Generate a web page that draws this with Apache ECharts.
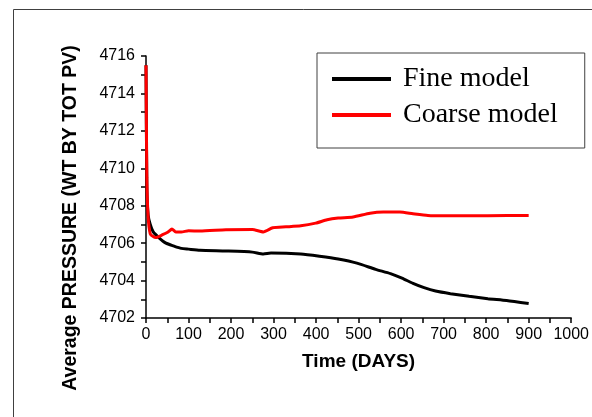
<!DOCTYPE html>
<html>
<head>
<meta charset="utf-8">
<script src="https://cdn.jsdelivr.net/npm/echarts@6/dist/echarts.min.js"></script>
<style>html,body{margin:0;padding:0;background:#fff;}#c{width:592px;height:417px;}</style>
</head>
<body>
<div id="c"></div>
<script>
var fineDays   = [0, 2, 5, 10, 17, 30, 47, 65, 83, 100, 127, 188, 250, 276, 294, 364, 408, 452, 496, 540, 575, 602, 628, 654, 681, 716, 760, 804, 848, 900];
var fineValues = [4715.5, 4709.0, 4707.5, 4707.0, 4706.6, 4706.3, 4706.0, 4705.85, 4705.72, 4705.68, 4705.62, 4705.58, 4705.52, 4705.42, 4705.47, 4705.42, 4705.3, 4705.15, 4704.93, 4704.6, 4704.37, 4704.13, 4703.85, 4703.62, 4703.44, 4703.3, 4703.16, 4703.03, 4702.93, 4702.77];
var coarseDays   = [0, 2, 5, 10, 17, 23, 39, 52, 61, 70, 83, 100, 127, 188, 250, 276, 298, 329, 364, 399, 426, 452, 487, 527, 558, 597, 628, 663, 698, 804, 900];
var coarseValues = [4715.5, 4709.5, 4707.4, 4706.5, 4706.35, 4706.3, 4706.45, 4706.6, 4706.75, 4706.6, 4706.6, 4706.66, 4706.65, 4706.72, 4706.73, 4706.6, 4706.82, 4706.87, 4706.93, 4707.07, 4707.25, 4707.34, 4707.4, 4707.6, 4707.66, 4707.66, 4707.57, 4707.48, 4707.46, 4707.47, 4707.48];
var seriesNames = ['Fine model', 'Coarse model'];
var xAxisTitle = 'Time (DAYS)';
var yAxisTitle = 'Average PRESSURE (WT BY TOT PV)';

function pairs(xs, ys){ return xs.map(function(x,i){ return [x, ys[i]]; }); }
var sans = '"Liberation Sans", Arial, sans-serif';

var chart = echarts.init(document.getElementById('c'), null, {renderer:'canvas'});
chart.setOption({
  animation: false,
  backgroundColor: '#fff',
  grid: {left: 146, right: 17, top: 56, bottom: 99},
  graphic: [
    {type:'rect', left: 11, top: 7, shape:{width: 620, height: 430}, style:{fill:'none', stroke:'#404040', lineWidth:1}, z: 0},
    {type:'text', x: 71, y: 218, rotation: Math.PI/2, style:{text: yAxisTitle, font:'bold 19.5px "Liberation Sans", Arial, sans-serif', fill:'#000', align:'center', verticalAlign:'middle'}}
  ],
  legend: {
    orient: 'vertical', left: 317, top: 53,
    data: seriesNames,
    icon: 'rect', itemWidth: 59, itemHeight: 4, itemGap: 8,
    padding: [12, 27, 19, 15],
    borderColor: '#404040', borderWidth: 1,
    textStyle: {fontFamily: '"Liberation Serif", "Times New Roman", serif', fontSize: 28, color: '#000', padding: [0,0,0,7]}
  },
  xAxis: {
    type: 'value', min: 0, max: 1000, interval: 100,
    name: xAxisTitle, nameLocation: 'middle', nameGap: 34,
    nameTextStyle: {fontFamily: sans, fontWeight:'bold', fontSize:19, color:'#000'},
    axisLine: {onZero:false, lineStyle:{color:'#000', width:1.5}},
    axisTick: {show:true, inside:false, length:5, lineStyle:{color:'#000', width:1.5}},
    minorTick: {show:true, splitNumber:2, length:5, lineStyle:{color:'#000', width:1.5}},
    axisLabel: {fontFamily: sans, fontSize:16, color:'#000', margin:9, formatter: function(v){ return String(v); }},
    splitLine: {show:false}
  },
  yAxis: {
    type: 'value', min: 4702, max: 4716, interval: 2,
    axisLine: {show:true, onZero:false, lineStyle:{color:'#000', width:1.5}},
    axisTick: {show:true, inside:false, length:5, lineStyle:{color:'#000', width:1.5}},
    minorTick: {show:true, splitNumber:2, length:5, lineStyle:{color:'#000', width:1.5}},
    axisLabel: {fontFamily: sans, fontSize:16, color:'#000', margin:11, formatter: function(v){ return String(v); }},
    splitLine: {show:false}
  },
  series: [
    {name: seriesNames[0], type:'line', data: pairs(fineDays, fineValues), showSymbol:false, smooth:0.2, color:'#000', lineStyle:{color:'#000', width:3}, z:3},
    {name: seriesNames[1], type:'line', data: pairs(coarseDays, coarseValues), showSymbol:false, smooth:0.2, color:'#ff0000', lineStyle:{color:'#ff0000', width:3}, z:4}
  ]
});
</script>
</body>
</html>
